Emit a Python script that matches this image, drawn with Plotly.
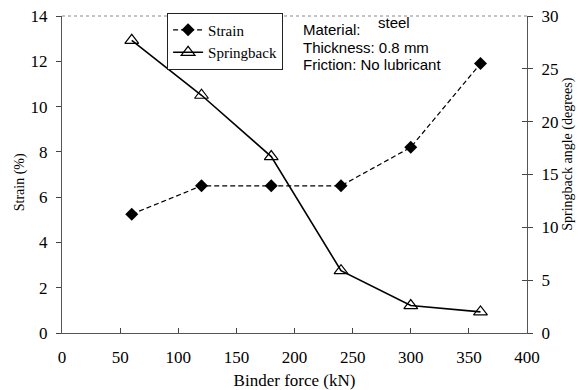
import plotly.graph_objects as go

binder_force = [60, 120, 180, 240, 300, 360]
strain = [5.25, 6.5, 6.5, 6.5, 8.2, 11.9]
springback = [27.7, 22.5, 16.7, 5.9, 2.6, 2.0]

x_ticks = [0, 50, 100, 150, 200, 250, 300, 350, 400]
y_left_ticks = [0, 2, 4, 6, 8, 10, 12, 14]
y_right_ticks = [0, 5, 10, 15, 20, 25, 30]

serif = "Liberation Serif"
sans = "Liberation Sans"

tick_font = dict(family=serif, size=17, color="black")
ytitle_font = dict(family=serif, size=14, color="black")
xtitle_font = dict(family=serif, size=17, color="black")

fig = go.Figure()
fig.add_trace(go.Scatter(
    x=binder_force, y=strain, name="Strain", mode="lines+markers",
    line=dict(color="black", width=1.2, dash="5px,3px"),
    marker=dict(symbol="diamond", size=10, color="black"),
    yaxis="y"))
fig.add_trace(go.Scatter(
    x=binder_force, y=springback, name="Springback", mode="lines+markers",
    line=dict(color="black", width=1.6),
    marker=dict(symbol="triangle-up-open", size=12, color="black",
                line=dict(width=1.2, color="black")),
    yaxis="y2"))
fig.add_trace(go.Scatter(x=[None], y=[None], yaxis="y3", showlegend=False,
                         hoverinfo="skip"))

fig.update_layout(
    width=583, height=390,
    margin=dict(l=62, r=56, t=16, b=57, autoexpand=False),
    paper_bgcolor="white", plot_bgcolor="white",
    font=dict(family=serif, size=15, color="black"),
    showlegend=True,
    legend=dict(x=0.226, y=0.921, xanchor="left", yanchor="middle",
                bordercolor="#222", borderwidth=1, bgcolor="white",
                font=dict(family=serif, size=15, color="black"), tracegroupgap=0,
                itemwidth=30),
    xaxis=dict(range=[0, 400], tickvals=x_ticks, ticks="inside", ticklen=5,
               tickcolor="#444", showline=True, linecolor="#555", linewidth=1,
               showgrid=False, zeroline=False, automargin=False,
               ticklabelstandoff=9,
               title=dict(text="Binder force (kN)", standoff=7, font=xtitle_font),
               tickfont=tick_font),
    yaxis=dict(range=[0, 14], tickvals=y_left_ticks, ticks="outside", ticklen=5,
               tickcolor="#444", showline=True, linecolor="#555", linewidth=1,
               showgrid=False, zeroline=False, automargin=False,
               ticklabelstandoff=5, tickfont=tick_font),
    yaxis2=dict(range=[0, 30], tickvals=y_right_ticks, overlaying="y", side="right",
                ticks="outside", ticklen=5, tickcolor="#444",
                showline=True, linecolor="#555", linewidth=1, automargin=False,
                showgrid=False, zeroline=False, ticklabelstandoff=5,
                tickfont=tick_font),
    yaxis3=dict(range=[0, 30], tickvals=y_right_ticks, overlaying="y", side="right",
                ticks="inside", ticklen=5, tickcolor="#444", showticklabels=False,
                showline=False, showgrid=False, zeroline=False, automargin=False),
)

fig.add_shape(type="line", xref="paper", yref="paper", x0=0, x1=1, y0=1, y1=1,
              line=dict(color="#888", width=1, dash="dot"))

# y-axis titles (placed as in the reference, slightly off-centre)
fig.add_annotation(x=-0.090, y=0.476, xref="paper", yref="paper", text="Strain (%)",
                   showarrow=False, textangle=-90, xanchor="center", yanchor="middle",
                   font=ytitle_font)
fig.add_annotation(x=1.088, y=0.565, xref="paper", yref="paper",
                   text="Springback angle (degrees)",
                   showarrow=False, textangle=-90, xanchor="center", yanchor="middle",
                   font=ytitle_font)

ann_font = dict(family=sans, size=15, color="black")
fig.add_annotation(x=0.515, y=0.957, xref="paper", yref="paper", text="Material:",
                   showarrow=False, xanchor="left", yanchor="middle", font=ann_font)
fig.add_annotation(x=0.676, y=0.978, xref="paper", yref="paper", text="steel",
                   showarrow=False, xanchor="left", yanchor="middle", font=ann_font)
fig.add_annotation(x=0.515, y=0.901, xref="paper", yref="paper", text="Thickness: 0.8 mm",
                   showarrow=False, xanchor="left", yanchor="middle", font=ann_font)
fig.add_annotation(x=0.515, y=0.846, xref="paper", yref="paper", text="Friction: No lubricant",
                   showarrow=False, xanchor="left", yanchor="middle", font=ann_font)

fig.write_html("out.html")
